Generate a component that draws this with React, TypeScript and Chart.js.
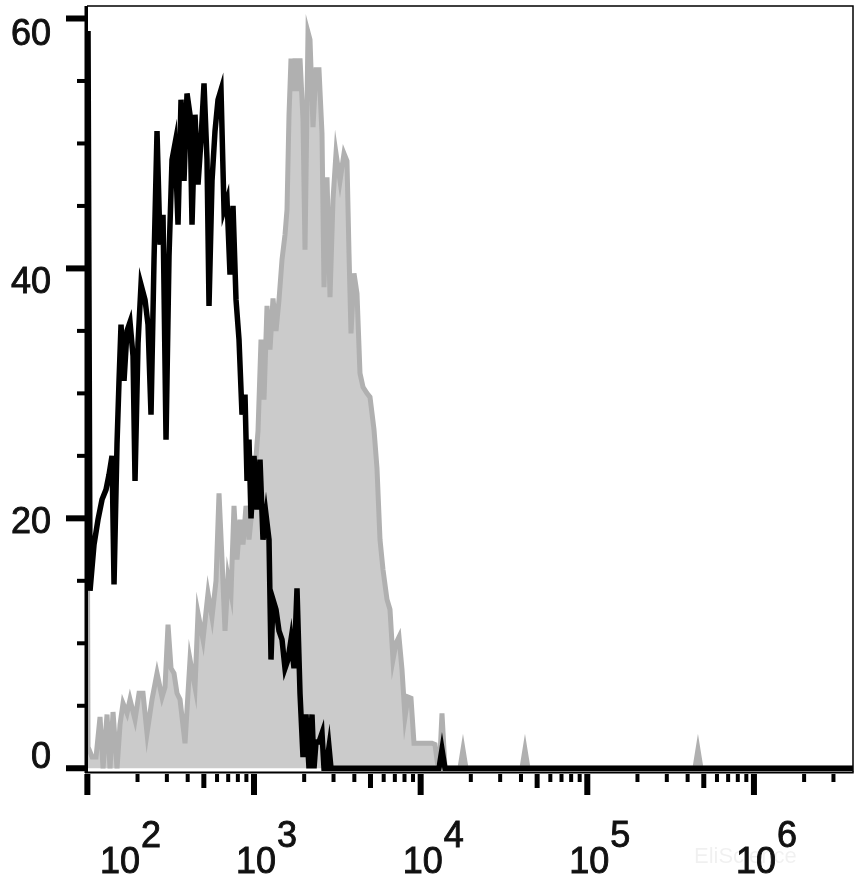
import { useEffect, useRef } from 'react';
import { Chart, registerables } from 'chart.js';

Chart.register(...registerables);

// ---- data (x stored as log10 of fluorescence intensity, y = cell count) ----
const blackLogX = [
  2.004, 2.016, 2.04, 2.064, 2.088, 2.112, 2.13, 2.148, 2.16, 2.178, 2.19, 2.202, 2.22, 2.238, 2.256, 2.274,
  2.286, 2.304, 2.322, 2.346, 2.364, 2.382, 2.4, 2.418, 2.436, 2.454, 2.472, 2.49, 2.508, 2.526, 2.544, 2.562,
  2.58, 2.598, 2.616, 2.628, 2.646, 2.664, 2.682, 2.7, 2.718, 2.73, 2.748, 2.766, 2.784, 2.802, 2.82, 2.838,
  2.856, 2.874, 2.892, 2.91, 2.928, 2.946, 2.958, 2.97, 2.982, 3.0, 3.018, 3.036, 3.054, 3.072, 3.09, 3.102,
  3.114, 3.132, 3.15, 3.168, 3.186, 3.204, 3.222, 3.24, 3.258, 3.276, 3.294, 3.312, 3.33, 3.348, 3.36, 3.372,
  3.39, 3.408, 3.42, 3.432, 3.45, 3.462, 3.48, 3.495, 4.11, 4.128, 4.146, 6.594,
];
const blackCount = [
  59.0, 14.2, 17.9, 19.9, 21.5, 22.3, 23.5, 25.0, 14.7, 26.0, 31.0, 35.5, 31.0, 35.0, 35.7, 33.0,
  23.0, 34.0, 38.7, 37.5, 35.5, 28.3, 40.7, 51.0, 41.9, 44.3, 26.3, 41.0, 48.7, 50.0, 43.5, 53.5,
  47.0, 54.0, 52.3, 43.5, 52.3, 46.7, 50.3, 54.8, 48.7, 37.0, 47.0, 51.0, 53.5, 54.3, 44.7, 45.5,
  39.5, 45.0, 37.5, 34.3, 28.3, 29.9, 23.0, 26.3, 20.0, 25.0, 20.7, 24.7, 18.3, 20.3, 18.3, 8.7,
  13.5, 12.7, 11.0, 10.3, 8.0, 8.7, 10.3, 8.0, 14.4, 6.0, 0.9, 4.3, 0.0, 4.3, 0.0, 2.1,
  2.1, 2.8, 0.0, 0.0, 1.7, 0.0, 0.0, 0.0, 0.0, 1.5, 0.0, 0.0,
];

const grayLogX = [
  2.0, 2.004, 2.028, 2.052, 2.076, 2.094, 2.118, 2.136, 2.154, 2.178, 2.196, 2.214, 2.238, 2.256, 2.286, 2.31,
  2.334, 2.358, 2.388, 2.418, 2.448, 2.466, 2.484, 2.502, 2.52, 2.538, 2.556, 2.586, 2.616, 2.646, 2.664, 2.694,
  2.724, 2.748, 2.772, 2.79, 2.808, 2.826, 2.844, 2.862, 2.88, 2.898, 2.916, 2.934, 2.952, 2.97, 2.988, 3.006,
  3.024, 3.042, 3.06, 3.078, 3.096, 3.114, 3.132, 3.15, 3.168, 3.186, 3.198, 3.21, 3.222, 3.234, 3.246, 3.258,
  3.276, 3.294, 3.306, 3.324, 3.336, 3.354, 3.372, 3.39, 3.408, 3.42, 3.438, 3.456, 3.474, 3.492, 3.516, 3.54,
  3.558, 3.57, 3.582, 3.6, 3.618, 3.636, 3.654, 3.678, 3.696, 3.72, 3.738, 3.756, 3.774, 3.798, 3.816, 3.834,
  3.852, 3.87, 3.888, 3.906, 3.924, 3.942, 3.96, 3.996, 4.032, 4.068, 4.086, 4.098, 4.116, 4.128, 4.146, 4.236,
  4.254, 4.272, 4.608, 4.626, 4.644, 5.646, 5.664, 5.682, 6.594,
];
const grayCount = [
  20.0, 1.7, 0.9, 0.9, 4.1, 0.0, 4.3, 0.0, 4.5, 0.0, 3.5, 5.2, 4.4, 5.5, 3.9, 6.0,
  6.0, 2.8, 5.5, 7.6, 5.7, 6.5, 11.5, 8.0, 7.6, 6.0, 5.5, 2.0, 8.7, 6.5, 12.4, 10.3,
  14.0, 12.1, 15.0, 22.0, 16.7, 11.0, 15.3, 14.0, 21.0, 16.7, 19.9, 17.9, 21.0, 18.3, 20.7, 23.9,
  27.0, 34.3, 29.5, 37.0, 33.5, 37.6, 35.0, 37.5, 40.7, 42.7, 44.7, 52.3, 56.8, 54.2, 56.8, 54.2,
  56.8, 51.9, 41.5, 58.9, 58.3, 51.3, 55.9, 55.9, 50.8, 38.5, 47.3, 37.7, 45.5, 49.2, 47.0, 49.2,
  48.6, 41.2, 34.8, 39.6, 38.0, 31.6, 30.5, 30.0, 29.7, 27.1, 24.0, 18.3, 15.9, 13.5, 12.7, 8.7,
  10.0, 10.5, 7.9, 4.1, 5.7, 5.6, 2.0, 2.0, 2.0, 2.0, 1.9, 0.7, 1.0, 4.4, 0.0, 0.0,
  1.5, 0.0, 0.0, 1.5, 0.0, 0.0, 1.5, 0.0, 0.0,
];

const yMajorTicks = [0, 20, 40, 60];
const yTickLabels = ['0', '20', '40', '60'];
const yMinorTicks = [5, 10, 15, 25, 30, 35, 45, 50, 55];
const xDecadeExponents = [2, 3, 4, 5, 6];
const xDecadeBase = '10';

const X_MIN = 99.5;
const X_MAX = 3.93e6;
const Y_MIN = -0.3;
const Y_MAX = 61;

const FONT = '"Liberation Sans", Arial, Helvetica, sans-serif';

function boldText(ctx: CanvasRenderingContext2D, t: string, x: number, y: number) {
  ctx.fillText(t, x, y);
  ctx.strokeText(t, x, y);
}

const axesPlugin = {
  id: 'flowAxes',
  afterDatasetsDraw(chart: any) {
    const { ctx, chartArea } = chart;
    const xs = chart.scales.x;
    const ys = chart.scales.y;
    const { left, right, top, bottom } = chartArea;
    // vertical nudge of each y label baseline below its tick (label style)
    const yLabelDrop = [0, 15, 25, 27];
    ctx.save();
    ctx.fillStyle = '#000';
    ctx.strokeStyle = '#000';

    // frame
    ctx.lineWidth = 1.5;
    ctx.beginPath();
    ctx.moveTo(left, top);
    ctx.lineTo(right, top);
    ctx.lineTo(right, bottom);
    ctx.stroke();
    ctx.lineWidth = 2;
    ctx.beginPath();
    ctx.moveTo(left - 2, bottom + 0.5);
    ctx.lineTo(right + 0.75, bottom + 0.5);
    ctx.stroke();
    // thick left axis
    ctx.fillRect(left - 2.5, top, 3.5, bottom - top + 1);

    // y ticks
    yMajorTicks.forEach((v) => {
      const py = ys.getPixelForValue(v);
      ctx.fillRect(left - 21, py - 3, 21, 6);
    });
    yMinorTicks.forEach((v) => {
      const py = ys.getPixelForValue(v);
      ctx.fillRect(left - 10, py - 2, 10, 4);
    });

    // y labels
    ctx.font = `36px ${FONT}`;
    ctx.fillStyle = '#111';
    ctx.strokeStyle = '#111';
    ctx.lineWidth = 0.9;
    ctx.textAlign = 'right';
    ctx.textBaseline = 'alphabetic';
    yMajorTicks.forEach((v, i) => {
      const py = ys.getPixelForValue(v);
      boldText(ctx, yTickLabels[i], 51, py + yLabelDrop[i]);
    });

    // x ticks
    ctx.fillStyle = '#000';
    const tickTop = bottom + 2;
    xDecadeExponents.forEach((e) => {
      for (let m = 1; m <= 9; m++) {
        const v = m * Math.pow(10, e);
        if (v < X_MIN * 0.99 || v > X_MAX) continue;
        const px = xs.getPixelForValue(v);
        if (m === 1) ctx.fillRect(px - 3, tickTop, 6, 21);
        else if (m === 5) ctx.fillRect(px - 2.5, tickTop, 5, 14);
        else ctx.fillRect(px - 2, tickTop, 4, 8);
      }
    });

    // x labels: 10 with raised exponent
    ctx.fillStyle = '#111';
    ctx.font = `36px ${FONT}`;
    ctx.textBaseline = 'alphabetic';
    xDecadeExponents.forEach((e) => {
      const px = xs.getPixelForValue(Math.pow(10, e));
      const cx = Math.max(px + 2, left + 33);
      ctx.textAlign = 'center';
      boldText(ctx, xDecadeBase, cx, 873);
      const w = ctx.measureText(xDecadeBase).width;
      ctx.textAlign = 'left';
      boldText(ctx, String(e), cx + w / 2 + 1, 847);
    });

    // watermark
    ctx.font = `22px ${FONT}`;
    ctx.fillStyle = 'rgba(0,0,0,0.06)';
    ctx.textAlign = 'left';
    ctx.textBaseline = 'middle';
    ctx.fillText('EliScience', 694, 857);

    ctx.restore();
  },
};

export default function App() {
  const canvasRef = useRef<HTMLCanvasElement | null>(null);

  useEffect(() => {
    document.body.style.margin = '0';
    const canvas = canvasRef.current;
    if (!canvas) return;
    const black = blackLogX.map((lx, i) => ({ x: Math.pow(10, lx), y: blackCount[i] }));
    const gray = grayLogX.map((lx, i) => ({ x: Math.pow(10, lx), y: grayCount[i] }));
    const chart = new Chart(canvas, {
      type: 'line',
      data: {
        datasets: [
          {
            label: 'Sample',
            data: black,
            borderColor: '#000000',
            borderWidth: 5.5,
            fill: false,
            pointRadius: 0,
            tension: 0,
            borderJoinStyle: 'miter',
            order: 0,
          },
          {
            label: 'Control',
            data: gray,
            borderColor: '#b0b0b0',
            backgroundColor: '#cbcbcb',
            borderWidth: 5,
            fill: 'origin',
            pointRadius: 0,
            tension: 0,
            borderJoinStyle: 'miter',
            order: 1,
          },
        ],
      },
      options: {
        animation: false,
        responsive: false,
        maintainAspectRatio: false,
        layout: { padding: { top: 6, right: 5, left: 0, bottom: 0 } },
        plugins: { legend: { display: false }, tooltip: { enabled: false } },
        scales: {
          x: {
            type: 'logarithmic',
            min: X_MIN,
            max: X_MAX,
            grid: { display: false, drawTicks: false },
            border: { display: false },
            ticks: { display: false },
            afterFit: (s: any) => {
              s.height = 119;
            },
          },
          y: {
            type: 'linear',
            min: Y_MIN,
            max: Y_MAX,
            grid: { display: false, drawTicks: false },
            border: { display: false },
            ticks: { display: false },
            afterFit: (s: any) => {
              s.width = 87;
            },
          },
        },
      },
      plugins: [axesPlugin],
    } as any);
    return () => chart.destroy();
  }, []);

  return (
    <div style={{ width: 858, height: 891, background: '#fff' }}>
      <canvas ref={canvasRef} width={858} height={891} style={{ display: 'block' }} />
    </div>
  );
}
